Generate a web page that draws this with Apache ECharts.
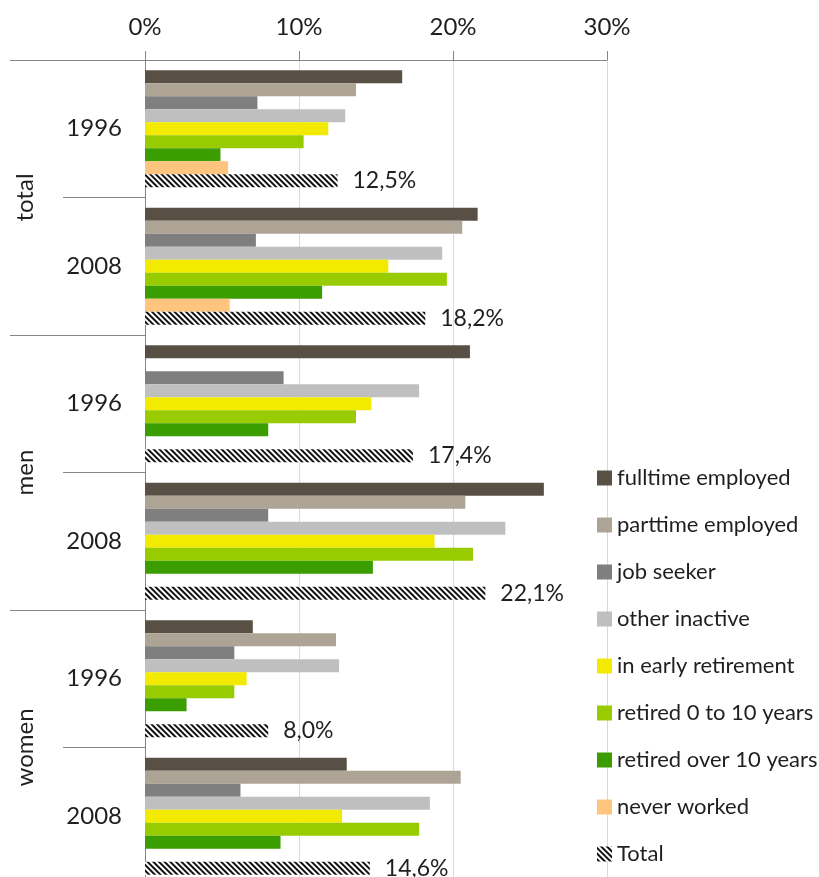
<!DOCTYPE html>
<html>
<head>
<meta charset="utf-8">
<script src="https://cdn.jsdelivr.net/npm/echarts@6/dist/echarts.min.js"></script>
<style>
  html, body { margin: 0; padding: 0; background: #fff; }
  #chart { width: 819px; height: 877px; }
</style>
</head>
<body>
<div id="chart"></div>
<script>
  // categories (top to bottom)
  var years = ['1996', '2008', '1996', '2008', '1996', '2008']
  var groups = ['total', 'men', 'women']
  var xTicks = [0, 10, 20, 30]

  var seriesNames = ['fulltime employed', 'parttime employed', 'job seeker', 'other inactive',
    'in early retirement', 'retired 0 to 10 years', 'retired over 10 years', 'never worked', 'Total']

  // values in %
  var fulltime = [16.7, 21.6, 21.1, 25.9, 7.0, 13.1]
  var parttime = [13.7, 20.6, null, 20.8, 12.4, 20.5]
  var jobSeeker = [7.3, 7.2, 9.0, 8.0, 5.8, 6.2]
  var otherInactive = [13.0, 19.3, 17.8, 23.4, 12.6, 18.5]
  var earlyRetirement = [11.9, 15.8, 14.7, 18.8, 6.6, 12.8]
  var retired0to10 = [10.3, 19.6, 13.7, 21.3, 5.8, 17.8]
  var retiredOver10 = [4.9, 11.5, 8.0, 14.8, 2.7, 8.8]
  var neverWorked = [5.4, 5.5, null, null, null, null]
  var totalValues = [12.5, 18.2, 17.4, 22.1, 8.0, 14.6]

  var colors = ['#595045', '#ADA496', '#7F7F7F', '#BFBFBF', '#F2EA00', '#99CC00', '#3A9E00', '#FFC47D']
  var font = 'Lato'
  var axisGray = '#868686'
  var textColor = '#1f1f1f'

  var valueLists = [fulltime, parttime, jobSeeker, otherInactive, earlyRetirement,
    retired0to10, retiredOver10, neverWorked]

  var series = valueLists.map(function (vals, i) {
    return {
      name: seriesNames[i],
      type: 'bar',
      barGap: 0,
      barCategoryGap: '15%',
      itemStyle: { color: colors[i] },
      data: vals
    }
  })
  series.push({
    name: 'Total',
    type: 'bar',
    barGap: 0,
    barCategoryGap: '15%',
    itemStyle: {
      color: '#ffffff',
      decal: {
        symbol: 'rect',
        symbolSize: 1,
        dashArrayX: [1, 0],
        dashArrayY: [2, 2],
        rotation: Math.PI / 4,
        color: '#111111'
      }
    },
    label: {
      show: true,
      position: 'right',
      distance: 15,
      fontFamily: font,
      fontSize: 23,
      color: textColor,
      formatter: function (p) {
        return p.value.toFixed(1).replace('.', ',') + '%'
      }
    },
    data: totalValues
  })

  var myChart = echarts.init(document.getElementById('chart'))
  var option = {
    animation: false,
    textStyle: { fontFamily: font },
    legend: {
      orient: 'vertical',
      left: 597,
      top: 467,
      padding: 0,
      itemWidth: 15,
      itemHeight: 15,
      itemGap: 25,
      icon: 'rect',
      textStyle: { fontFamily: font, fontSize: 22, color: textColor, lineHeight: 21 },
      data: seriesNames
    },
    grid: {
      left: 145,
      top: 60,
      width: 462,
      height: 825,
      outerBoundsMode: 'none'
    },
    xAxis: {
      type: 'value',
      position: 'top',
      min: xTicks[0],
      max: xTicks[xTicks.length - 1],
      interval: 10,
      axisLine: { show: true, lineStyle: { color: axisGray } },
      axisTick: { show: true, length: 9, lineStyle: { color: axisGray } },
      axisLabel: { formatter: '{value}%', fontFamily: font, fontSize: 24, color: textColor, margin: 21 },
      splitLine: { show: true, lineStyle: { color: '#D9D9D9' } }
    },
    yAxis: [
      {
        type: 'category',
        inverse: true,
        data: years,
        axisLine: { show: true, lineStyle: { color: axisGray } },
        axisTick: { show: true, length: 82, lineStyle: { color: axisGray } },
        axisLabel: { fontFamily: font, fontSize: 24, color: textColor, margin: 23 }
      },
      {
        type: 'category',
        inverse: true,
        position: 'left',
        data: groups,
        axisLine: { show: false },
        axisTick: { show: true, length: 135, lineStyle: { color: axisGray } },
        axisLabel: { fontFamily: font, fontSize: 24, color: textColor, rotate: 90, margin: 108 }
      }
    ],
    series: series
  }
  myChart.setOption(option)
</script>
</body>
</html>
